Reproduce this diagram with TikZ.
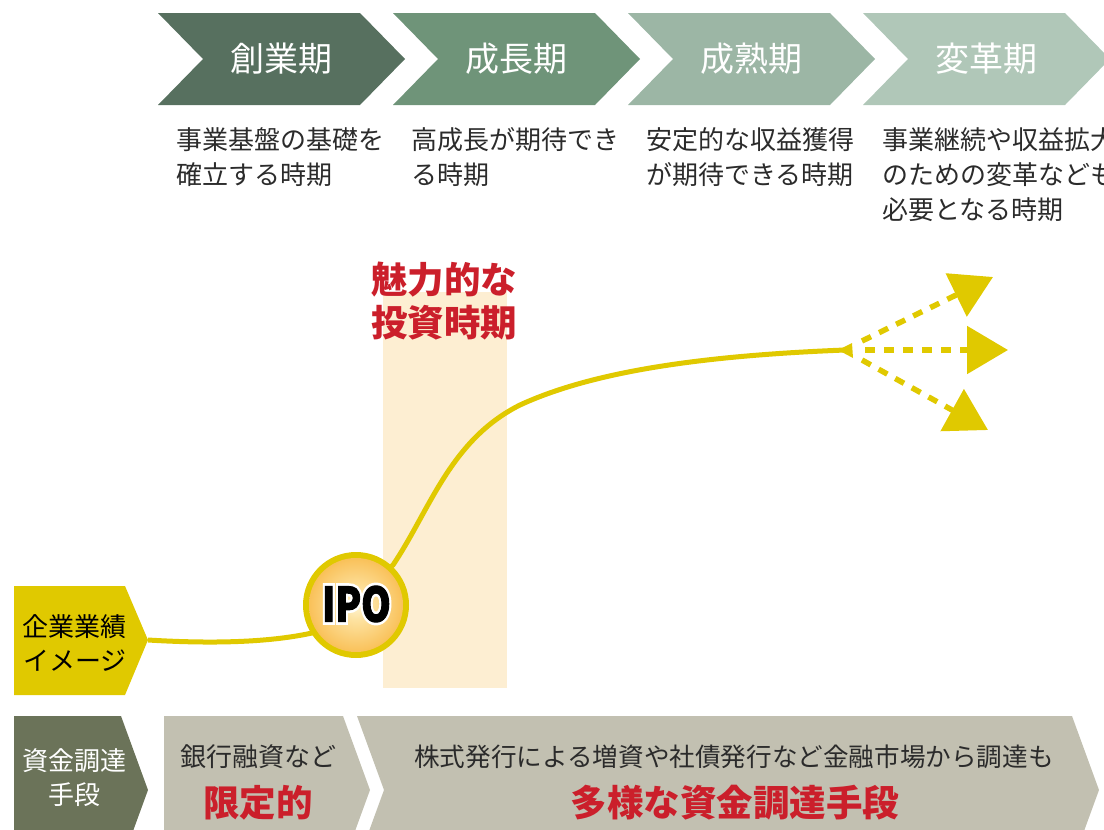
\documentclass[tikz,border=0pt]{standalone}
\usepackage{fontspec}
\setmainfont{Noto Sans CJK JP}
\newfontfamily\ipoout{Noto Sans CJK JP}[FakeBold=14]
\newfontfamily\ipoin{Noto Sans CJK JP}[FakeBold=2.5]
\usetikzlibrary{arrows.meta}
\definecolor{chA}{HTML}{57705F}
\definecolor{chB}{HTML}{6F9479}
\definecolor{chC}{HTML}{9CB6A5}
\definecolor{chD}{HTML}{B0C7B8}
\definecolor{txt}{HTML}{2B2B2B}
\definecolor{yel}{HTML}{E0C900}
\definecolor{band}{HTML}{FDEED2}
\definecolor{redt}{HTML}{CB1F2B}
\definecolor{olive}{HTML}{6B7359}
\definecolor{grayb}{HTML}{C2C0B1}
\definecolor{ipoA}{HTML}{FFF4D2}
\definecolor{ipoB}{HTML}{FDE2A0}
\definecolor{ipoC}{HTML}{F9BF55}
\definecolor{ipoD}{HTML}{F5A020}
\definecolor{ipoE}{HTML}{F29400}
\pgfdeclareradialshading{iposhade}{\pgfpoint{0bp}{0bp}}{color(0bp)=(ipoA); color(8bp)=(ipoB); color(26bp)=(ipoC); color(40bp)=(ipoD); color(50bp)=(ipoE); color(100bp)=(ipoE)}
\begin{document}
\begin{tikzpicture}[x=1pt,y=-1pt,
  chevlabel/.style={text=white,font=\fontsize{34}{40}\selectfont,inner sep=0pt},
  desc/.style={text=txt,font=\fontsize{26}{35}\selectfont,align=left,anchor=north west,inner sep=0pt},
  boxtext/.style={font=\fontsize{26}{34}\selectfont,align=center,inner sep=0pt},
  redbig/.style={text=redt,font=\fontsize{36.5}{43}\selectfont\bfseries,align=center,inner sep=0pt},
  curve/.style={draw=yel,line width=5pt},
  dashline/.style={draw=yel,line width=5.5pt,dash pattern=on 10pt off 9pt,-{Triangle[length=41pt,width=47pt]}},
  ipotext/.style={inner sep=0pt,xscale=0.8}]
\useasboundingbox (0,0) rectangle (1104,830);
\clip (0,0) rectangle (1104,830);

% stage chevrons
\fill[chA] (158,13) -- (360,13) -- (405,59) -- (360,105) -- (158,105) -- (203,59) -- cycle;
\fill[chB] (393,13) -- (595,13) -- (640,59) -- (595,105) -- (393,105) -- (438,59) -- cycle;
\fill[chC] (628,13) -- (830,13) -- (875,59) -- (830,105) -- (628,105) -- (673,59) -- cycle;
\fill[chD] (863,13) -- (1065,13) -- (1110,59) -- (1065,105) -- (863,105) -- (908,59) -- cycle;
\node[chevlabel] (s1) at (281,59) {創業期};
\node[chevlabel] (s2) at (516,59) {成長期};
\node[chevlabel] (s3) at (751,59) {成熟期};
\node[chevlabel] (s4) at (986,59) {変革期};

% descriptions
\node[desc] (d1) at (176,127) {事業基盤の基礎を\\確立する時期};
\node[desc] (d2) at (411,127) {高成長が期待でき\\る時期};
\node[desc] (d3) at (646,127) {安定的な収益獲得\\が期待できる時期};
\node[desc] (d4) at (882,127) {事業継続や収益拡大\\のための変革なども\\必要となる時期};

% attractive investment band
\fill[band] (383,292) rectangle (507,688);
\node[redbig] (inv) at (444,301) {魅力的な\\投資時期};

% performance box
\fill[yel] (14,586) -- (125,586) -- (148,640) -- (125,695) -- (14,695) -- cycle;
\coordinate (perf) at (148,640);
\node[boxtext,text=black] (perft) at (75,643) {企業業績\\イメージ};

% IPO position and curve
\coordinate (ipo) at (356,605);
\coordinate (endc) at (845,350);
\draw[curve] (perf) .. controls (230,645) and (280,640) .. (312,633) -- (393,565)
  .. controls (430,510) and (450,440) .. (520,405)
  .. controls (600,368) and (720,355) .. (endc);
\fill[yel] (838,350) -- (852,343) -- (853,358) -- cycle;

% dashed arrows
\coordinate (a1s) at (862,341);
\coordinate (a2s) at (865,350);
\coordinate (a3s) at (862,360);
\coordinate (a1t) at (993,277);
\coordinate (a2t) at (1008,350);
\coordinate (a3t) at (988,430);
\draw[dashline] (a1s) -- (a1t);
\draw[dashline] (a2s) -- (a2t);
\draw[dashline] (a3s) -- (a3t);

% IPO circle
\fill[yel] (ipo) circle (53);
\shade[shading=iposhade] (ipo) circle (47);
\node[ipotext,text=white,font=\fontsize{47}{47}\selectfont\ipoout\bfseries] (ipow) at (356.5,604) {IPO};
\node[ipotext,text=black,font=\fontsize{47}{47}\selectfont\ipoin\bfseries] (ipol) at (356.5,604) {IPO};

% funding row
\fill[olive] (14,716) -- (121,716) -- (148,790) -- (121,864) -- (14,864) -- cycle;
\node[boxtext,text=white] (fund) at (75,778) {資金調達\\手段};
\fill[grayb] (164,716) -- (343,716) -- (370,790) -- (343,864) -- (164,864) -- cycle;
\fill[grayb] (357,716) -- (1072,716) -- (1099,790) -- (1072,864) -- (357,864) -- (384,790) -- cycle;
\node[boxtext,text=txt] (bank) at (258,757) {銀行融資など};
\node[redbig] (lim) at (258,803) {限定的};
\node[boxtext,text=txt,font=\fontsize{25.6}{34}\selectfont] (mkt) at (734,757) {株式発行による増資や社債発行など金融市場から調達も};
\node[redbig] (div) at (735,803) {多様な資金調達手段};
\end{tikzpicture}
\end{document}
